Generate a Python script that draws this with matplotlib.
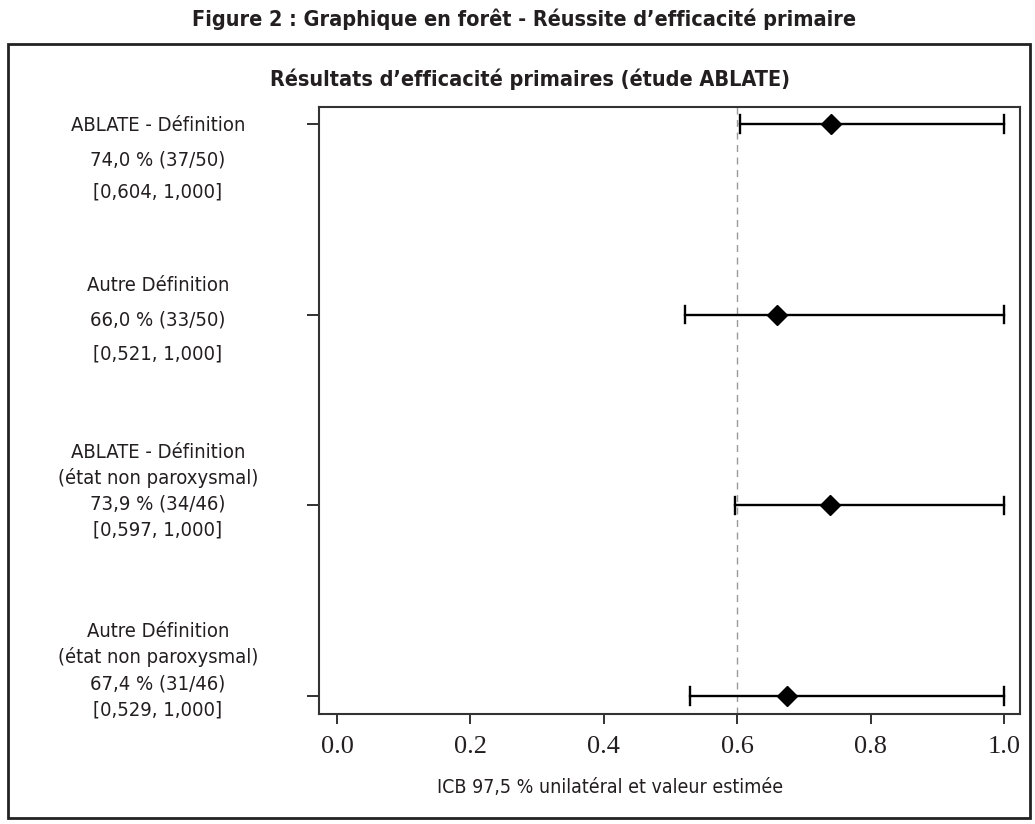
import matplotlib.pyplot as plt
from matplotlib.patches import Rectangle

# condensed sans for the labels, Times-like serif for the ticks
narrow = 'DejaVu Sans'
stretch = 'condensed'
serif = 'Liberation Serif'
txt_col = '#231f20'

# data
groups = ['ABLATE - Définition', 'Autre Définition',
          'ABLATE - Définition\n(état non paroxysmal)',
          'Autre Définition\n(état non paroxysmal)']
pct_txt = ['74,0 % (37/50)', '66,0 % (33/50)', '73,9 % (34/46)', '67,4 % (31/46)']
ci_txt = ['[0,604, 1,000]', '[0,521, 1,000]', '[0,597, 1,000]', '[0,529, 1,000]']
estimate = [0.740, 0.660, 0.739, 0.674]
lower = [0.604, 0.521, 0.597, 0.529]
upper = [1.000, 1.000, 1.000, 1.000]
ref_line = 0.6
xticks = [0.0, 0.2, 0.4, 0.6, 0.8, 1.0]

W, H = 1035, 824
fig = plt.figure(figsize=(W / 100, H / 100), dpi=100)

def fx(px):
    return px / W

def fy(py):
    return 1 - py / H

ax = fig.add_axes([fx(319), fy(714), fx(1020) - fx(319), fy(107) - fy(714)])

ypos = list(range(len(groups)))
for i in ypos:
    ax.plot([lower[i], upper[i]], [i, i], color='black', lw=1.7, zorder=3)
    ax.plot([lower[i], lower[i]], [i - 0.045, i + 0.045], color='black', lw=1.7, zorder=3)
    ax.plot([upper[i], upper[i]], [i - 0.045, i + 0.045], color='black', lw=1.7, zorder=3)
ax.plot(estimate, ypos, 'D', color='black', ms=10, zorder=4)
ax.axvline(ref_line, color='#999999', lw=1, ls=(0, (5, 4)), zorder=1)

ax.set_xlim(-0.027, 1.024)
ax.set_ylim(3.094, -0.089)
ax.set_xticks(xticks)
ax.set_xticklabels([f'{t:.1f}' for t in xticks], fontfamily=serif, fontsize=19,
                   color=txt_col)
ax.set_yticks(ypos)
ax.set_yticklabels([])
ax.tick_params(axis='both', direction='out', width=1.3, color='#222222')
ax.tick_params(axis='y', length=9)
ax.tick_params(axis='x', length=7, pad=9)
for s in ax.spines.values():
    s.set_color('#333333')
    s.set_linewidth(1.5)

fig.text(fx(610), fy(793), 'ICB 97,5 % unilatéral et valeur estimée', ha='center',
         va='baseline', fontfamily=narrow, fontstretch=stretch, fontsize=14,
         color=txt_col)

# left labels, one block per row (baselines in px)
lab_x = fx(158)
blocks = [
    ([131, 165, 198], [groups[0], pct_txt[0], ci_txt[0]]),
    ([291, 326, 360], [groups[1], pct_txt[1], ci_txt[1]]),
    ([458, 484, 510, 536], groups[2].split('\n') + [pct_txt[2], ci_txt[2]]),
    ([637, 663, 689, 715], groups[3].split('\n') + [pct_txt[3], ci_txt[3]]),
]
for ys, lines in blocks:
    for y, t in zip(ys, lines):
        fig.text(lab_x, fy(y), t, ha='center', va='baseline', fontfamily=narrow,
                 fontstretch=stretch, fontsize=14.5, color=txt_col)

fig.text(fx(524), fy(26), 'Figure 2 : Graphique en forêt - Réussite d\u2019efficacité primaire',
         ha='center', va='baseline', fontfamily=narrow, fontstretch=stretch,
         fontweight='bold', fontsize=15.5, color=txt_col)
fig.text(fx(530), fy(86), 'Résultats d\u2019efficacité primaires (étude ABLATE)',
         ha='center', va='baseline', fontfamily=narrow, fontstretch=stretch,
         fontweight='bold', fontsize=15.5, color=txt_col)

fig.patches.append(Rectangle((fx(8), fy(818)), fx(1030) - fx(8), fy(44) - fy(818),
                             transform=fig.transFigure, fill=False,
                             edgecolor='#222222', lw=2))

fig.savefig('out.png', dpi=100)
